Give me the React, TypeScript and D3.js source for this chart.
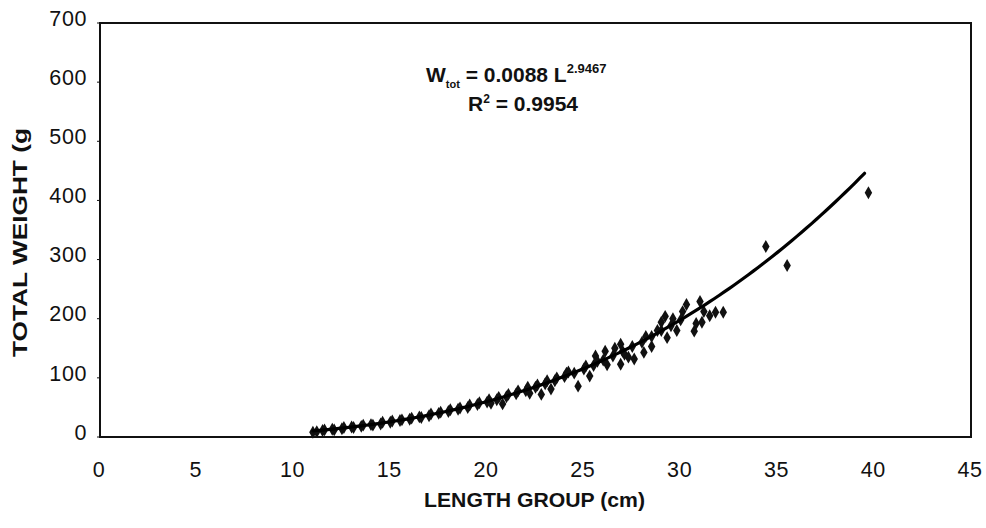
import React from "react";
import * as d3 from "d3";

const xTicks = [0, 5, 10, 15, 20, 25, 30, 35, 40, 45];
const yTicks = [0, 100, 200, 300, 400, 500, 600, 700];

const lengthGroup = [
  11.0, 11.2, 11.5, 11.6, 12.0, 12.1, 12.5, 12.6, 13.0, 13.1, 13.5, 13.6, 14.0, 14.1, 14.5, 14.6,
  15.0, 15.1, 15.5, 15.6, 16.0, 16.1, 16.5, 16.6, 17.0, 17.1, 17.5, 17.6, 18.0, 18.1, 18.5, 18.6,
  19.0, 19.1, 19.5, 19.6, 20.0, 20.1, 20.2, 20.5, 20.6, 20.8, 21.0, 21.1, 21.5, 21.6, 22.0, 22.1,
  22.2, 22.5, 22.6, 22.8, 23.0, 23.1, 23.3, 23.5, 23.6, 24.0, 24.1, 24.2, 24.5, 24.7, 25.0, 25.1,
  25.3, 25.5, 25.6, 25.7, 26.0, 26.1, 26.2, 26.5, 26.6, 26.9, 26.9, 27.0, 27.1, 27.3, 27.6, 27.5,
  28.0, 28.1, 28.2, 28.5, 28.5, 28.8, 29.0, 29.2, 29.0, 29.3, 29.5, 29.6, 29.8, 30.0, 30.1, 30.3,
  30.7, 30.8, 31.0, 31.1, 31.2, 31.5, 31.8, 32.2, 34.4, 35.5, 39.7,
];

const totalWeight = [
  8, 9, 11, 12, 13, 12, 14, 16, 17, 16, 18, 20, 21, 20, 22, 25,
  25, 27, 28, 29, 30, 32, 34, 33, 36, 39, 40, 42, 43, 46, 47, 49,
  50, 54, 55, 58, 59, 63, 57, 63, 67, 56, 68, 72, 73, 78, 78, 84,
  74, 84, 88, 72, 90, 95, 81, 95, 100, 102, 108, 110, 108, 86, 115, 120,
  103, 121, 137, 128, 130, 145, 122, 137, 150, 157, 123, 145, 140, 135, 132, 153,
  160, 143, 170, 170, 153, 180, 180, 204, 194, 168, 188, 200, 180, 198, 212, 224,
  179, 192, 229, 194, 212, 205, 211, 211, 322, 290, 413,
];

const fitA = 0.0088;
const fitB = 2.9467;
const fitStart = 11;
const fitEnd = 39.7;
const fitLengths = d3.range(fitStart, fitEnd + 0.001, 0.25);

export default function App() {
  const W = 986, H = 528;
  const left = 100, right = 971, top = 23, bottom = 437;
  const x = d3.scaleLinear().domain([0, 45]).range([left, right]);
  const y = d3.scaleLinear().domain([0, 700]).range([bottom, top]);
  const line = d3.line<number>().x((d) => x(d)).y((d) => y(fitA * Math.pow(d, fitB))).curve(d3.curveMonotoneX);
  const diamond = d3.symbol().type(d3.symbolDiamond).size(48)();
  const font = "'Liberation Sans', Arial, Helvetica, sans-serif";

  return (
    <svg width={W} height={H} style={{ position: "absolute", left: 0, top: 0, background: "#fff" }} fontFamily={font}>
      <rect x={0} y={0} width={W} height={H} fill="#fff" />
      <rect x={left} y={top} width={right - left} height={bottom - top} fill="none" stroke="#111" strokeWidth={2} />
      {yTicks.map((t) => (
        <g key={"y" + t}>
          <line x1={left - 3} x2={left} y1={y(t)} y2={y(t)} stroke="#111" strokeWidth={1} />
          <text x={87} y={y(t) - 3} textAnchor="end" dominantBaseline="middle" fontSize={21.5} fill="#111" letterSpacing={0.6}>{t}</text>
        </g>
      ))}
      {xTicks.map((t) => (
        <text key={"x" + t} x={x(t) - 1} y={471} textAnchor="middle" dominantBaseline="middle" fontSize={21.5} fill="#111" letterSpacing={0.6}>{t}</text>
      ))}
      <text x={424} y={501} dominantBaseline="middle" fontSize={21} fontWeight="bold" fill="#111" textLength={221} lengthAdjust="spacingAndGlyphs">LENGTH GROUP (cm)</text>
      <text transform={`translate(21,357) rotate(-90)`} dominantBaseline="middle" fontSize={21} fontWeight="bold" fill="#111" textLength={229} lengthAdjust="spacingAndGlyphs">TOTAL WEIGHT (g</text>
      <g fill="#111" fontWeight="bold">
        <text x={426} y={82} fontSize={21}>
          W<tspan fontSize={11} dy={6}>tot</tspan><tspan dy={-6} fontSize={21}> = 0.0088 L</tspan><tspan fontSize={13} dy={-9}>2.9467</tspan>
        </text>
        <text x={468} y={111} fontSize={21}>
          R<tspan fontSize={12} dy={-8}>2</tspan><tspan dy={8}> = 0.9954</tspan>
        </text>
      </g>
      {lengthGroup.map((l, i) => (
        <path key={i} d={diamond ?? ""} transform={`translate(${x(l)},${y(totalWeight[i])})`} fill="#111" />
      ))}
      <path d={line(fitLengths) ?? ""} fill="none" stroke="#000" strokeWidth={3.2} strokeLinejoin="round" strokeLinecap="round" />
    </svg>
  );
}
